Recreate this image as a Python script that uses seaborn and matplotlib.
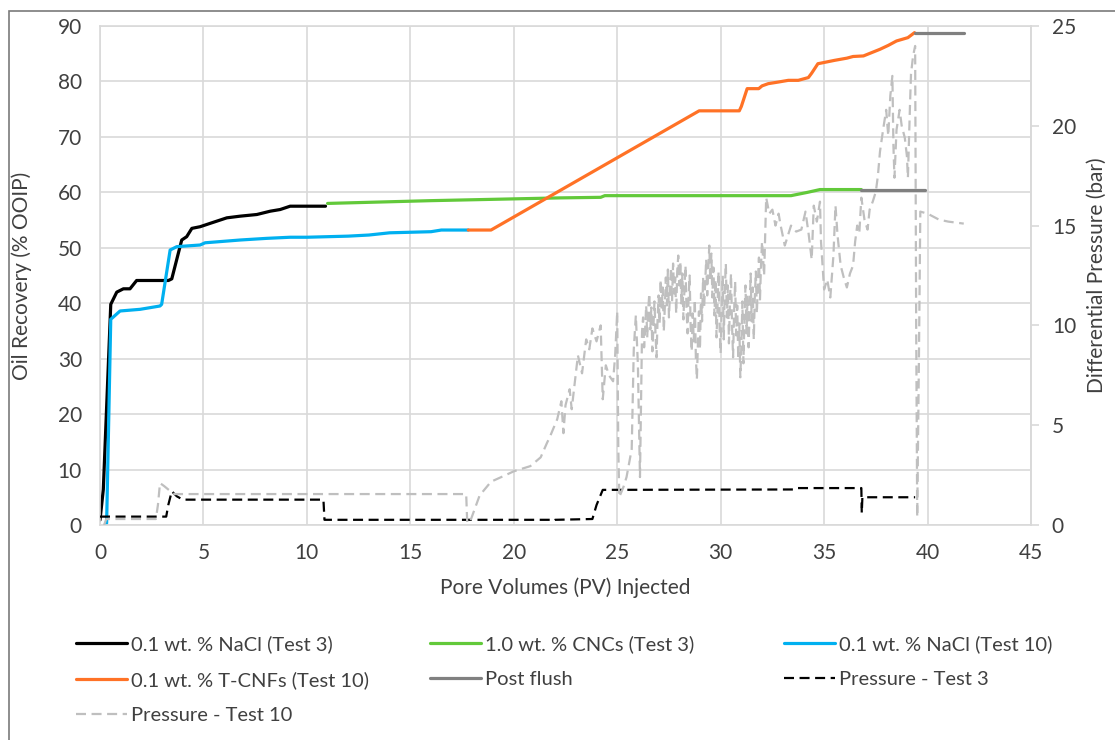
import numpy as np
import pandas as pd
import matplotlib
matplotlib.use("Agg")
import matplotlib.pyplot as plt
from matplotlib.patches import Rectangle
import seaborn as sns

# ---------------- data ----------------
nacl3_pv = [0, 0.16, 0.52, 0.81, 1.13, 1.45, 1.77, 3.31, 3.47, 3.95, 4.19, 4.44, 4.84, 5.32,
            6.13, 6.77, 7.58, 8.23, 8.71, 9.19, 10.0, 10.9]
nacl3_rec = [0.9, 6.4, 39.8, 42.0, 42.6, 42.6, 44.1, 44.1, 44.4, 51.4, 52.0, 53.5, 53.8, 54.4,
             55.4, 55.7, 56.0, 56.6, 56.9, 57.5, 57.5, 57.5]

cnc3_pv = [11.0, 16.0, 22.25, 24.2, 24.4, 33.4, 34.2, 34.8, 36.8]
cnc3_rec = [58.0, 58.5, 59.0, 59.1, 59.4, 59.4, 60.0, 60.5, 60.5]

nacl10_pv = [0.24, 0.32, 0.52, 0.97, 1.94, 2.9, 2.98, 3.39, 3.71, 4.84, 5.08, 6.77, 8.06, 9.19,
             10.0, 12.0, 13.0, 14.0, 16.0, 16.5, 17.8]
nacl10_rec = [0, 0.3, 37.1, 38.6, 38.9, 39.5, 39.8, 49.6, 50.2, 50.5, 50.9, 51.4, 51.7, 51.9,
              51.9, 52.1, 52.3, 52.7, 52.9, 53.2, 53.2]

tcnf10_pv = [17.8, 18.9, 28.96, 30.9, 31.0, 31.28, 31.84, 32.0, 32.3, 32.8, 33.27, 33.75, 34.24,
             34.4, 34.7, 34.84, 35.5, 36.1, 36.4, 36.9, 37.3, 37.7, 38.1, 38.5, 39.05, 39.37]
tcnf10_rec = [53.2, 53.2, 74.7, 74.7, 75.5, 78.7, 78.7, 79.2, 79.6, 79.9, 80.2, 80.2, 80.7,
              81.5, 83.2, 83.3, 83.8, 84.2, 84.5, 84.6, 85.2, 85.8, 86.5, 87.3, 87.9, 88.8]

post3_pv = [36.8, 39.87]
post3_rec = [60.5, 60.5]
post10_pv = [39.37, 41.75]
post10_rec = [88.8, 88.8]

p3_pv = [0, 0.5, 3.2, 3.3, 3.47, 3.71, 4.0, 10.8, 10.85, 11.0, 21.8, 21.9, 22.0, 23.8, 24.0,
         24.3, 33.5, 33.6, 36.8, 36.82, 36.85, 39.4]
p3_bar = [0.42, 0.42, 0.42, 1.0, 1.69, 1.44, 1.27, 1.27, 0.26, 0.26, 0.26, 0.2, 0.26, 0.3, 1.0,
          1.76, 1.78, 1.85, 1.85, 0.6, 1.39, 1.39]

p10_pv = [0.2, 0.3, 2.7, 2.8, 2.9, 3.1, 3.3, 3.6, 17.7, 17.75, 17.9, 18.35, 18.9, 19.5, 20.0,
          20.8, 21.3, 21.6, 21.75, 22.1, 22.3, 22.4, 22.5, 22.7, 22.8, 23.1, 23.3, 23.5, 23.65,
          23.8, 24.0, 24.2, 24.3, 24.45, 24.6, 24.8, 24.9, 25.0, 25.05, 25.1, 25.3, 25.45, 25.7,
          25.8, 25.9, 26.0, 26.1,
          26.20, 26.25, 26.30, 26.35, 26.40, 26.45, 26.50, 26.55, 26.60, 26.65, 26.70, 26.75,
          26.80, 26.85, 26.90, 26.95, 27.00, 27.05, 27.10, 27.15, 27.20, 27.25, 27.30, 27.35,
          27.40, 27.45, 27.50, 27.55, 27.60, 27.65, 27.70, 27.75, 27.80, 27.85, 27.90, 27.95,
          28.00, 28.05, 28.10, 28.15, 28.20, 28.25, 28.30, 28.35, 28.40, 28.45, 28.50, 28.55,
          28.60, 28.65, 28.70, 28.75, 28.80, 28.85, 28.90, 28.95, 29.00, 29.05, 29.10, 29.15,
          29.20, 29.25, 29.30, 29.35, 29.40, 29.45, 29.50, 29.55, 29.60, 29.65, 29.70, 29.75,
          29.80, 29.85, 29.90, 29.95, 30.00, 30.05, 30.10, 30.15, 30.20, 30.25, 30.30, 30.35,
          30.40, 30.45, 30.50, 30.55, 30.60, 30.65, 30.70, 30.75, 30.80, 30.85, 30.90, 30.95,
          31.00, 31.05, 31.10, 31.15, 31.20, 31.25, 31.30, 31.35, 31.40, 31.45, 31.50, 31.55,
          31.60, 31.65, 31.70, 31.75, 31.80, 31.85, 31.90, 31.95, 32.00,
          32.1, 32.2, 32.35, 32.5, 32.65, 32.8, 32.9, 33.1, 33.4, 33.65, 33.9, 34.1, 34.25, 34.4,
          34.5, 34.65, 34.8, 34.85, 35.0, 35.15, 35.3, 35.45, 35.55, 35.65, 35.8, 35.95, 36.1,
          36.25, 36.4, 36.5, 36.6, 36.7, 36.8, 36.95, 37.1, 37.2, 37.35, 37.5, 37.6, 37.7, 37.85,
          38.0, 38.1, 38.2, 38.3, 38.35, 38.4, 38.5, 38.65, 38.75, 38.9, 39.0, 39.05, 39.15, 39.2,
          39.3, 39.4, 39.45, 39.5, 39.58, 39.65, 40.0, 40.55, 41.0, 41.75]
p10_bar = [0.0, 0.3, 0.3, 1.0, 2.1, 1.95, 1.78, 1.55, 1.55, 0.1, 0.2, 1.48, 2.17, 2.45, 2.69,
           2.95, 3.39, 4.1, 4.43, 5.3, 6.2, 4.6, 6.0, 6.8, 5.8, 8.5, 7.6, 9.3, 8.8,
           9.85, 9.2, 10.0, 6.3, 8.0, 7.5, 7.2, 8.5, 10.7, 4.0, 1.4, 1.9, 2.4, 3.8,
           8.8, 10.5, 8.0, 2.4,
           9.7, 10.4, 8.9, 9.8, 11.0, 9.4, 10.8, 11.6, 9.8, 10.9, 8.7, 9.9,
           11.2, 9.6, 8.4, 10.3, 11.5, 10.1, 12.3, 10.8, 11.9, 9.7, 10.9, 12.4,
           11.0, 12.8, 10.4, 11.7, 12.9, 11.2, 13.1, 11.6, 12.4, 10.6, 12.7, 13.5,
           12.0, 13.2, 11.1, 12.6, 10.3, 11.9, 13.0, 10.8, 9.6, 11.4, 12.5, 9.9,
           8.7, 10.6, 9.2, 11.3, 8.4, 7.3, 9.1, 10.7, 8.8, 11.6, 10.2, 12.4,
           10.9, 12.1, 13.3, 11.5, 12.8, 14.0, 12.2, 13.6, 11.4, 12.9, 10.5, 12.3,
           9.4, 11.0, 12.7, 9.8, 8.6, 10.9, 12.5, 9.3, 11.8, 13.1, 10.4, 12.0,
           9.1, 11.3, 12.6, 10.0, 8.4, 10.7, 12.2, 9.5, 11.0, 8.3, 10.1, 7.4,
           9.0, 11.2, 8.1, 10.4, 12.0, 9.6, 11.5, 8.9, 10.8, 12.6, 10.2, 11.9,
           9.3, 11.4, 12.7, 10.6, 12.2, 13.4, 11.3, 13.0, 14.2,
           12.5, 16.4, 15.6, 15.8, 15.0, 15.6, 15.0, 14.0, 15.0, 14.7, 14.8, 15.7, 14.6, 13.3,
           16.0, 15.2, 16.2, 14.2, 11.8, 12.3, 11.4, 13.5, 16.0, 14.5, 13.0, 12.4, 11.9,
           12.6, 13.0, 14.2, 15.0, 14.6, 16.4, 15.3, 14.8, 15.8, 16.2, 16.7, 17.5, 18.7, 19.8,
           20.8, 19.5, 21.5, 22.5, 19.0, 17.4, 19.8, 20.8, 20.0, 19.4, 18.5, 17.4, 21.0, 22.6,
           23.5, 24.0, 10.0, 0.4, 8.0, 15.7, 15.6, 15.3, 15.2, 15.1]

x_ticks = [0, 5, 10, 15, 20, 25, 30, 35, 40, 45]
y_ticks = [0, 10, 20, 30, 40, 50, 60, 70, 80, 90]
y2_ticks = [0, 5, 10, 15, 20, 25]

labels = ["0.1 wt. % NaCl (Test 3)", "1.0 wt. % CNCs (Test 3)", "0.1 wt. % NaCl (Test 10)",
          "0.1 wt. % T-CNFs (Test 10)", "Post flush", "Pressure - Test 3", "Pressure - Test 10"]

# ---------------- style ----------------
sns.set_style("white")
FONT = ["Lato", "DejaVu Sans"]
plt.rcParams["font.family"] = FONT
FS = 15
LFS = 14.5
TXT = "#404040"
GRID = "#d9d9d9"

fig = plt.figure(figsize=(11.15, 7.40), dpi=100)
ax = fig.add_axes([100 / 1115, 1 - 525 / 740, 931 / 1115, 499 / 740])
ax2 = ax.twinx()

LW = 2.3
DLW = 1.6
dash = (0, (4.5, 2.5))

def draw(a, xs, ys, color, label, lw=LW, ls="-"):
    df = pd.DataFrame({"x": xs, "y": ys})
    sns.lineplot(data=df, x="x", y="y", ax=a, color=color, lw=lw, linestyle=ls,
                 estimator=None, sort=False, legend=False, label=label)

draw(ax, nacl3_pv, nacl3_rec, "#000000", labels[0])
draw(ax, cnc3_pv, cnc3_rec, "#62c93a", labels[1])
draw(ax, nacl10_pv, nacl10_rec, "#00b0f0", labels[2])
draw(ax, tcnf10_pv, tcnf10_rec, "#ff7226", labels[3])
draw(ax, post3_pv, post3_rec, "#808080", labels[4])
draw(ax, post10_pv, post10_rec, "#808080", "_nolegend_")
draw(ax2, p3_pv, p3_bar, "#000000", labels[5], lw=DLW, ls=dash)
draw(ax2, p10_pv, p10_bar, "#bfbfbf", labels[6], lw=DLW, ls=dash)

ax.set_xlim(0, 45)
ax.set_ylim(0, 90)
ax2.set_ylim(0, 25)
ax.set_xticks(x_ticks)
ax.set_xticklabels([str(t) for t in x_ticks])
ax.set_yticks(y_ticks)
ax.set_yticklabels([str(t) for t in y_ticks])
ax2.set_yticks(y2_ticks)
ax2.set_yticklabels([str(t) for t in y2_ticks])

ax.grid(True, color=GRID, lw=1.2)
ax.set_axisbelow(True)
for s in ax.spines.values():
    s.set_color(GRID)
    s.set_linewidth(1.2)
for k in ["left", "top", "bottom"]:
    ax2.spines[k].set_visible(False)
ax2.spines["right"].set_color(GRID)
ax2.spines["right"].set_linewidth(1.2)

ax.tick_params(axis="both", length=0, labelsize=FS, labelcolor=TXT)
ax.tick_params(axis="y", pad=13)
ax.tick_params(axis="x", pad=13)
ax2.tick_params(axis="y", direction="out", length=6, width=1.2, color=GRID,
                labelsize=FS, labelcolor=TXT, pad=9)

ax.set_xlabel("Pore Volumes (PV) Injected", fontsize=FS, color=TXT, va="center")
ax.set_ylabel("Oil Recovery (% OOIP)", fontsize=FS, color=TXT, va="center")
ax2.set_ylabel("Differential Pressure (bar)", fontsize=FS, color=TXT, va="center")
ax.xaxis.set_label_coords(0.5, (525 - 588) / 499)
ax.yaxis.set_label_coords((22 - 100) / 931, 0.5)
ax2.yaxis.set_label_coords((1097 - 100) / 931, 0.5)

# ---------------- legend ----------------
h1, l1 = ax.get_legend_handles_labels()
h2, l2 = ax2.get_legend_handles_labels()
hmap = dict(zip(l1 + l2, h1 + h2))
cols = [[labels[0], labels[3], labels[6]], [labels[1], labels[4]], [labels[2], labels[5]]]
col_x = [76, 430, 784]
for cx, cl in zip(col_x, cols):
    leg = fig.legend([hmap[c] for c in cl], cl, loc="upper left",
                     bbox_to_anchor=(cx / 1115, 1 - 635 / 740), frameon=False,
                     fontsize=LFS, handlelength=2.55, handletextpad=0.2,
                     borderpad=0, borderaxespad=0, labelspacing=0.9,
                     labelcolor=TXT)

# outer frame
fig.add_artist(Rectangle((9.3 / 1115, -0.2), 1.3, 1.2 - 11 / 740, transform=fig.transFigure,
                         fill=False, edgecolor="#7a7a7a", lw=1.2))

fig.savefig("out.png", dpi=100)
